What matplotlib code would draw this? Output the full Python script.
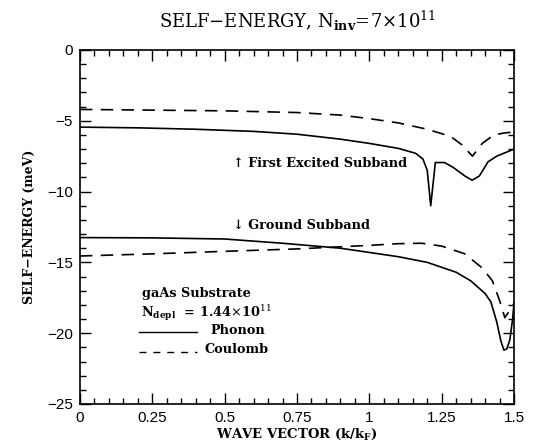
import numpy as np
import matplotlib
matplotlib.use('Agg')
import matplotlib.pyplot as plt
from matplotlib.ticker import MultipleLocator

plt.rcParams['mathtext.fontset'] = 'dejavuserif'

# first excited subband
x_exc_ph = [0, 0.2, 0.4, 0.6, 0.75, 0.9, 1.0, 1.1, 1.16, 1.185, 1.2, 1.212,
            1.228, 1.26, 1.29, 1.33, 1.355, 1.38, 1.41, 1.44, 1.5]
y_exc_ph = [-5.45, -5.5, -5.6, -5.75, -5.95, -6.3, -6.6, -6.95, -7.3, -7.7, -8.5, -11.0,
            -7.95, -7.95, -8.3, -8.9, -9.2, -8.9, -7.9, -7.5, -7.0]
x_exc_co = [0, 0.25, 0.5, 0.75, 0.9, 1.0, 1.1, 1.2, 1.28, 1.32, 1.356, 1.39, 1.43, 1.47, 1.5]
y_exc_co = [-4.2, -4.25, -4.3, -4.42, -4.6, -4.85, -5.15, -5.6, -6.1, -6.7, -7.5, -6.6,
            -6.0, -5.85, -5.8]

# ground subband
x_gnd_ph = [0, 0.25, 0.5, 0.7, 0.9, 1.0, 1.1, 1.2, 1.3, 1.35, 1.4, 1.42, 1.44,
            1.455, 1.465, 1.475, 1.485, 1.495, 1.5]
y_gnd_ph = [-13.25, -13.27, -13.35, -13.65, -14.0, -14.3, -14.6, -15.0, -15.7, -16.3,
            -17.2, -17.8, -19.2, -20.6, -21.2, -21.1, -20.5, -19.0, -17.8]
x_gnd_co = [0, 0.25, 0.5, 0.75, 0.9, 1.0, 1.1, 1.18, 1.25, 1.33, 1.39, 1.425, 1.45,
            1.468, 1.485, 1.5]
y_gnd_co = [-14.55, -14.4, -14.22, -14.05, -13.9, -13.8, -13.68, -13.65, -13.85, -14.4,
            -15.4, -16.3, -17.7, -18.9, -18.4, -17.9]

xticks = [0, 0.25, 0.5, 0.75, 1, 1.25, 1.5]
xticklabels = ['0', '0.25', '0.5', '0.75', '1', '1.25', '1.5']
yticks = [0, -5, -10, -15, -20, -25]
yticklabels = ['0', '\u22125', '\u221210', '\u221215', '\u221220', '\u221225']

dash = (0, (7.5, 5))
lw = 1.2

fig = plt.figure(figsize=(5.51, 4.42), dpi=100)
ax = fig.add_axes([0.145, 0.086, 0.788, 0.801])

ax.plot(x_exc_ph, y_exc_ph, color='black', lw=lw)
ax.plot(x_exc_co, y_exc_co, color='black', lw=lw, linestyle=dash)
ax.plot(x_gnd_ph, y_gnd_ph, color='black', lw=lw)
ax.plot(x_gnd_co, y_gnd_co, color='black', lw=lw, linestyle=dash)

ax.set_xlim(0, 1.5)
ax.set_ylim(-25, 0)
ax.set_xticks(xticks)
ax.set_xticklabels(xticklabels, family='Liberation Sans', fontsize=11)
ax.set_yticks(yticks)
ax.set_yticklabels(yticklabels, family='Liberation Sans', fontsize=11)
ax.xaxis.set_minor_locator(MultipleLocator(0.05))
ax.yaxis.set_minor_locator(MultipleLocator(1))
ax.tick_params(which='both', direction='in', top=True, right=True, width=1.0)
ax.tick_params(which='major', length=8, pad=5)
ax.tick_params(which='minor', length=4)
for s in ax.spines.values():
    s.set_linewidth(1.2)

ax.set_title(r'SELF$-$ENERGY, N$_{\mathbf{inv}}$=7$\times$10$^{11}$',
             family='DejaVu Serif', fontsize=13, pad=16)
ax.set_xlabel(r'WAVE VECTOR (k/k$_{\mathbf{F}}$)', family='DejaVu Serif',
              fontsize=9.5, fontweight='bold', labelpad=1)
ax.set_ylabel('SELF\u2212ENERGY (meV)', family='DejaVu Serif', fontsize=9,
              fontweight='bold', labelpad=8)

tfont = dict(family='DejaVu Serif', fontsize=9.3, fontweight='bold')
ax.text(0.53, -8.0, '\u2191 First Excited Subband', va='center', **tfont)
ax.text(0.53, -12.4, '\u2193 Ground Subband', va='center', **tfont)

ax.text(0.215, -17.2, 'gaAs Substrate', va='center', **tfont)
ax.text(0.21, -18.6, r'N$_{\mathbf{depl}}$  = 1.44$\times$10$^{11}$', va='center', **tfont)
ax.plot([0.205, 0.405], [-19.95, -19.95], color='black', lw=1.0)
ax.text(0.45, -19.8, 'Phonon', va='center', **tfont)
ax.plot([0.205, 0.405], [-21.3, -21.3], color='black', lw=1.0, linestyle=(0, (5, 5)))
ax.text(0.43, -21.15, 'Coulomb', va='center', **tfont)

fig.savefig('out.png', dpi=100)
